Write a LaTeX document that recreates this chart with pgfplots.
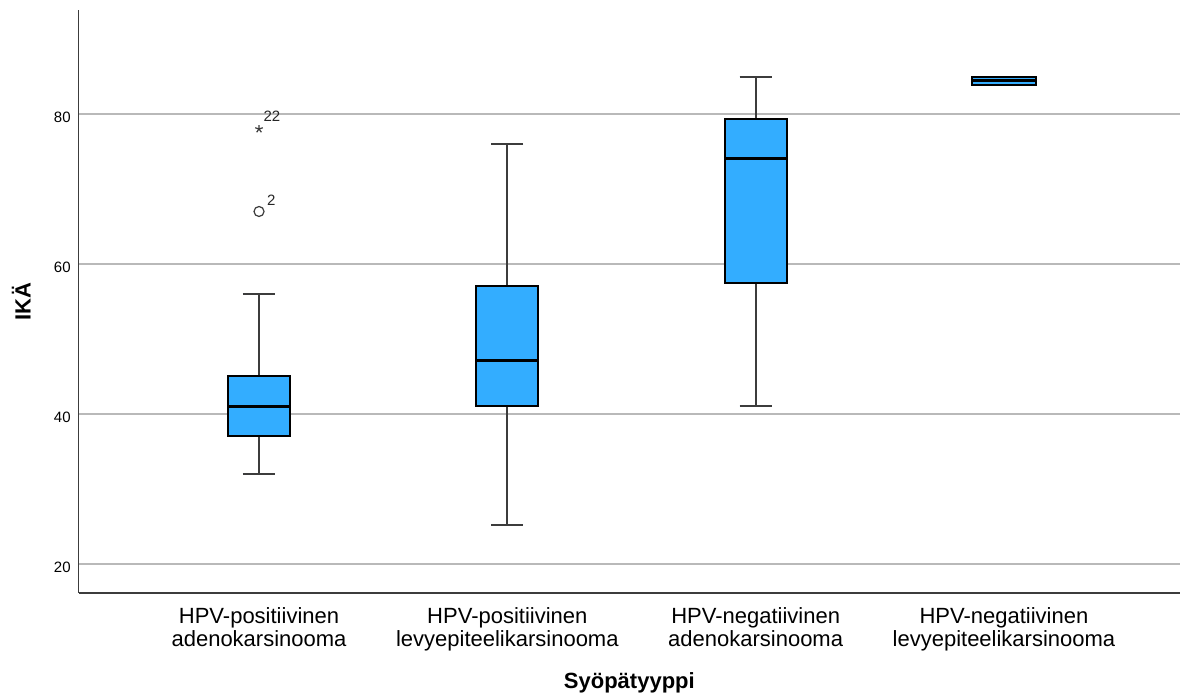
\documentclass[border=0pt]{standalone}
\usepackage{pgfplots}
\pgfplotsset{compat=1.18}
\usepgfplotslibrary{statistics}
\usepackage{fontspec}
\setmainfont{Liberation Sans}
\definecolor{boxblue}{RGB}{51,173,255}
\definecolor{spine}{RGB}{60,60,60}
\definecolor{gridc}{RGB}{185,185,185}
\begin{document}
\begin{tikzpicture}
\begin{axis}[
  scale only axis,
  width=550.7pt, height=291.5pt,
  xmin=0.2738, xmax=4.709,
  ymin=16.13, ymax=93.87,
  axis x line*=bottom, axis y line*=left,
  axis line style={-, draw=spine, line width=0.75pt},
  ytick={20,40,60,80},
  ymajorgrids,
  grid style={gridc, line width=0.7pt},
  major tick length=0pt,
  xtick={1,2,3,4},
  xticklabels={{HPV-positiivinen\\adenokarsinooma},{HPV-positiivinen\\levyepiteelikarsinooma},{HPV-negatiivinen\\adenokarsinooma},{HPV-negatiivinen\\levyepiteelikarsinooma}},
  xticklabel style={align=center, font=\fontsize{11}{11.2}\selectfont, anchor=north, inner sep=0pt, yshift=-7.3pt},
  yticklabel style={font=\fontsize{7.5}{9}\selectfont, anchor=east, inner sep=0pt, xshift=-3.85pt, yshift=-1.5pt},
  /pgf/number format/assume math mode=true,
  xlabel={Syöpätyyppi},
  xlabel style={at={(axis description cs:0.5,-0.1647)}, anchor=base, font=\fontsize{11}{13}\selectfont\bfseries},
  ylabel={IKÄ},
  ylabel style={at={(axis description cs:-0.04358,0.5)}, anchor=base, rotate=0, font=\fontsize{11}{13}\selectfont\bfseries},
  boxplot/draw direction=y,
  boxplot/box extend=0.25,
  boxplot/whisker extend=0.13,
  boxplot/every box/.append style={line width=1pt},
  boxplot/every median/.append style={line width=1.6pt},
  boxplot/every whisker/.append style={draw=spine, line width=1pt},
]
\addplot+[draw=black, fill=boxblue, mark=none, line width=1pt, boxplot prepared={draw position=1, lower whisker=32, lower quartile=37, median=41, upper quartile=45, upper whisker=56}] coordinates {};
\addplot+[draw=black, fill=boxblue, mark=none, line width=1pt, boxplot prepared={draw position=2, lower whisker=25.2, lower quartile=41.05, median=47.1, upper quartile=57, upper whisker=76}] coordinates {};
\addplot+[draw=black, fill=boxblue, mark=none, line width=1pt, boxplot prepared={draw position=3, lower whisker=41, lower quartile=57.4, median=74.1, upper quartile=79.4, upper whisker=85}] coordinates {};
\addplot+[draw=black, fill=boxblue, mark=none, line width=1pt, boxplot prepared={draw position=4, lower whisker=83.9, lower quartile=83.9, median=84.45, upper quartile=85, upper whisker=85, box extend=0.26}] coordinates {};
\addplot[only marks, mark=o, mark size=2.5pt, draw=spine, line width=0.6pt,
  point meta=explicit symbolic, nodes near coords,
  every node near coord/.style={anchor=base west, inner sep=0pt, xshift=3.8pt, yshift=3pt, font=\fontsize{7.5}{9}\selectfont, text=black!85}]
  coordinates {(1,67) [2]};
\addplot[only marks, mark=star, mark size=2pt, draw=spine, line width=0.6pt,
  point meta=explicit symbolic, nodes near coords,
  every node near coord/.style={anchor=base west, inner sep=0pt, xshift=2pt, yshift=3.85pt, font=\fontsize{7.5}{9}\selectfont, text=black!85}]
  coordinates {(1,78) [22]};
\end{axis}
\pgfresetboundingbox
\path ([xshift=-39.35pt, yshift=-52pt]current axis.south west) rectangle ([yshift=5pt]current axis.north east);
\end{tikzpicture}
\end{document}
